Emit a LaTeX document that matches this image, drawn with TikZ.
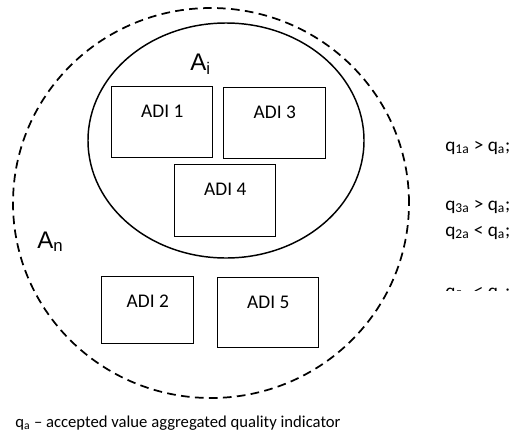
\documentclass[tikz,border=0pt]{standalone}
\usepackage{fontspec}
\setmainfont{Carlito}
\newfontfamily\arialfont{Liberation Sans}
\usetikzlibrary{shapes}

\begin{document}
\begin{tikzpicture}[x=0.75pt,y=-0.75pt,set/.style={ellipse, draw, line width=1.1pt, inner sep=0pt},adi/.style={rectangle, draw, line width=1.1pt, inner sep=0pt, anchor=north west, minimum width=75.75pt, text height=23.25pt, text depth=30pt, font=\fontsize{14.5}{17}\selectfont},setname/.style={anchor=base west, inner sep=0pt, font=\arialfont\fontsize{18}{20}\selectfont},cond/.style={anchor=base west, inner sep=0pt, font=\fontsize{14.5}{17}\selectfont}]
                \useasboundingbox (0,0) rectangle (509,439);
                \node[set, line width=1.3pt, dash pattern=on 6.5pt off 4pt, minimum width=297pt, minimum height=292.5pt] (An) at (211,203) {};
                \node[set, minimum width=207pt, minimum height=176.25pt] (Ai) at (226,140.5) {};
                \node[setname] (Ai_name) at (190,70) {A\textsubscript{i}};
                \node[setname] (An_name) at (37,248) {A\textsubscript{n}};
                \node[adi] (adi1) at (111,86) {ADI 1};
                \node[adi, minimum width=76.5pt] (adi3) at (223,87) {ADI 3};
                \node[adi, text depth=30.75pt] (adi4) at (174,164) {ADI 4};
                \node[adi, minimum width=69pt, text depth=27pt] (adi2) at (101,276) {ADI 2};
                \node[adi, text depth=29.25pt] (adi5) at (217,277) {ADI 5};
                \node[cond] (q1) at (445,151) {q\textsubscript{1a} > q\textsubscript{a};};
                \node[cond] (q3) at (445,210) {q\textsubscript{3a} > q\textsubscript{a};};
                \node[cond] (q2) at (445,236) {q\textsubscript{2a} < q\textsubscript{a};};
                \begin{scope}
                \clip (430,250) rectangle (509,290);
                \node[cond] (q5) at (445,297) {q\textsubscript{5a} < q\textsubscript{a};};
                \end{scope}
                \node[cond, font=\fontsize{12.5}{15}\selectfont] (note) at (15,427) {q\textsubscript{a} -- accepted value aggregated quality indicator};
            \end{tikzpicture}
\end{document}
